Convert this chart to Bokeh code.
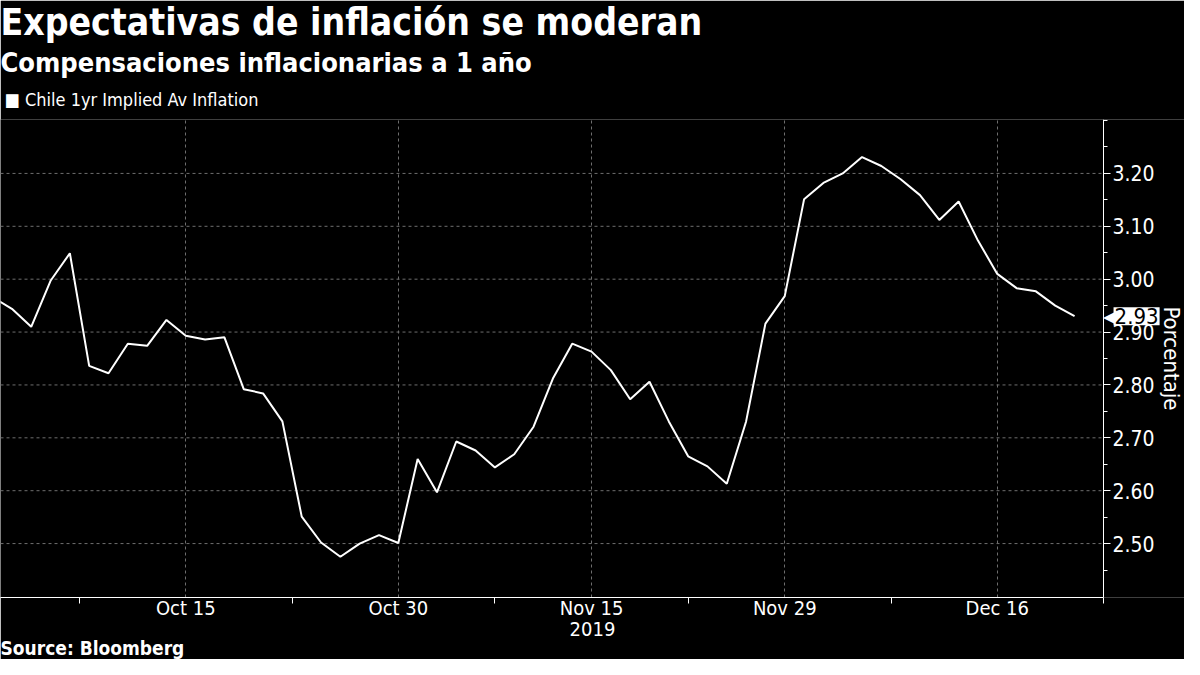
import pandas as pd
from bokeh.plotting import figure
from bokeh.models import (ColumnDataSource, Range1d, LinearAxis, FixedTicker,
                          Title, Label, NumeralTickFormatter)
from bokeh.embed import file_html
from bokeh.resources import INLINE

# ---------------- data ----------------
title_text = "Expectativas de inflación se moderan"
subtitle_text = "Compensaciones inflacionarias a 1 año"
series_name = "Chile 1yr Implied Av Inflation"
source_text = "Source: Bloomberg"
y_label = "Porcentaje"
x_label = "2019"

holidays = ["2019-10-31", "2019-11-01"]
dates = [d for d in pd.bdate_range("2019-10-01", "2019-12-20")
         if d.strftime("%Y-%m-%d") not in holidays]

values = [2.966, 2.944, 2.910, 2.997, 3.049, 2.836, 2.822, 2.878, 2.874, 2.923,
          2.893, 2.886, 2.890, 2.792, 2.784, 2.731, 2.551, 2.502, 2.475, 2.500,
          2.516, 2.501,
          2.660, 2.597, 2.693, 2.676, 2.644, 2.669, 2.721, 2.812, 2.878, 2.863,
          2.828, 2.773, 2.806, 2.731, 2.665, 2.646, 2.613, 2.731, 2.916, 2.968,
          3.151, 3.182, 3.200, 3.231, 3.214, 3.189, 3.159, 3.112, 3.147, 3.073,
          3.010, 2.983, 2.977, 2.950, 2.930]

x_tick_dates = ["2019-10-15", "2019-10-30", "2019-11-15", "2019-11-29", "2019-12-16"]
x_tick_labels = ["Oct 15", "Oct 30", "Nov 15", "Nov 29", "Dec 16"]
y_ticks = [2.5, 2.6, 2.7, 2.8, 2.9, 3.0, 3.1, 3.2]
y_minor = [2.45, 2.5, 2.55, 2.6, 2.65, 2.7, 2.75, 2.8, 2.85, 2.9, 2.95, 3.0,
           3.05, 3.1, 3.15, 3.2, 3.25, 3.3]

# ---------------- derived ----------------
idx = list(range(len(dates)))
date_str = [d.strftime("%Y-%m-%d") for d in dates]
x_major = [date_str.index(d) for d in x_tick_dates]
x_minor = [(a + b) / 2 for a, b in zip(x_major[:-1], x_major[1:])]
x_minor = [x_major[0] - (x_major[1] - x_major[0]) / 2] + x_minor + \
          [x_major[-1] + (x_major[-1] - x_major[-2]) / 2]
axis_x = x_minor[-1]          # the value axis sits at the last period boundary

src = ColumnDataSource(dict(x=idx, y=values))

FONT = "DejaVu Sans Condensed"
GRID = "#6e6e6e"

p = figure(width=1184, height=659, output_backend="svg", toolbar_location=None,
           x_range=Range1d(0.41, 61.69), y_range=Range1d(2.398, 3.302),
           y_axis_location=None, x_axis_location=None,
           background_fill_color="black", border_fill_color="black",
           outline_line_color=None,
           min_border_left=0, min_border_right=0,
           min_border_top=0, min_border_bottom=0)

# horizontal grid lines, stopping at the value axis
n = len(y_ticks)
p.segment(x0=[p.x_range.start] * n, x1=[axis_x] * n, y0=y_ticks, y1=y_ticks,
          line_color=GRID, line_dash="3 3", line_width=1)
p.ygrid.visible = False

p.line("x", "y", source=src, line_color="white", line_width=2)

# right value axis, drawn at a fixed location inside the canvas
yax = LinearAxis(ticker=FixedTicker(ticks=y_ticks, minor_ticks=y_minor),
                 axis_label=y_label, fixed_location=axis_x)
yax.formatter = NumeralTickFormatter(format="0.00")
yax.axis_line_color = "white"
yax.major_tick_line_color = "white"
yax.minor_tick_line_color = "white"
yax.major_tick_out = 7
yax.major_tick_in = 0
yax.minor_tick_out = 4
yax.minor_tick_in = 0
yax.major_label_text_color = "white"
yax.major_label_text_font = FONT
yax.major_label_text_font_size = "21px"
yax.major_label_standoff = 2
yax.axis_label_text_color = "white"
yax.axis_label_text_font = FONT
yax.axis_label_text_font_size = "22px"
yax.axis_label_text_font_style = "normal"
yax.axis_label_standoff = 1
p.add_layout(yax, "right")

# bottom time axis
xax = LinearAxis(ticker=FixedTicker(ticks=x_major, minor_ticks=x_minor),
                 axis_label=x_label, bounds=(p.x_range.start, axis_x))
xax.major_label_overrides = {t: l for t, l in zip(x_major, x_tick_labels)}
xax.axis_line_color = "white"
xax.major_tick_line_color = None
xax.major_tick_out = 0
xax.major_tick_in = 0
xax.minor_tick_line_color = "white"
xax.minor_tick_out = 6
xax.minor_tick_in = 0
xax.major_label_text_color = "white"
xax.major_label_text_font = FONT
xax.major_label_text_font_size = "20px"
xax.major_label_standoff = -8
xax.axis_label_text_color = "white"
xax.axis_label_text_font = FONT
xax.axis_label_text_font_size = "20px"
xax.axis_label_text_font_style = "normal"
xax.axis_label_standoff = -1
p.add_layout(xax, "below")

# vertical grid lines at labelled dates
p.xgrid.ticker = FixedTicker(ticks=x_major)
p.xgrid.grid_line_color = GRID
p.xgrid.grid_line_dash = "3 3"
p.xgrid.grid_line_width = 1

# last value tag on the value axis
tag_arrow = Label(x=axis_x, y=values[-1], x_offset=-1, text="◀",
                  text_color="white", text_font_size="19px",
                  text_align="left", text_baseline="middle")
tag = Label(x=axis_x, y=values[-1], x_offset=10,
            text=f"{values[-1]:.2f}", text_color="black", text_font=FONT,
            text_font_size="22px", text_align="left", text_baseline="middle",
            background_fill_color="white", padding=1)
p.add_layout(tag_arrow)
p.add_layout(tag)

# titles (stacked outward from the frame)
leg = Title(text="■ " + series_name, text_color="white", text_font=FONT,
            text_font_size="18px", text_font_style="normal",
            vertical_align="top", standoff=7, offset=0, padding=4)
sub = Title(text=subtitle_text, text_color="white", text_font=FONT,
            text_font_size="27px", text_font_style="bold",
            vertical_align="top", standoff=3, offset=0)
ttl = Title(text=title_text, text_color="white", text_font=FONT,
            text_font_size="37px", text_font_style="bold",
            vertical_align="top", standoff=0, offset=0)
p.add_layout(leg, "above")
p.add_layout(sub, "above")
p.add_layout(ttl, "above")

src_t = Title(text=source_text, text_color="white", text_font=FONT,
              text_font_size="19px", text_font_style="bold",
              vertical_align="top", standoff=-3, offset=0)
p.add_layout(src_t, "below")

open("out.html", "w").write(file_html(p, INLINE))
